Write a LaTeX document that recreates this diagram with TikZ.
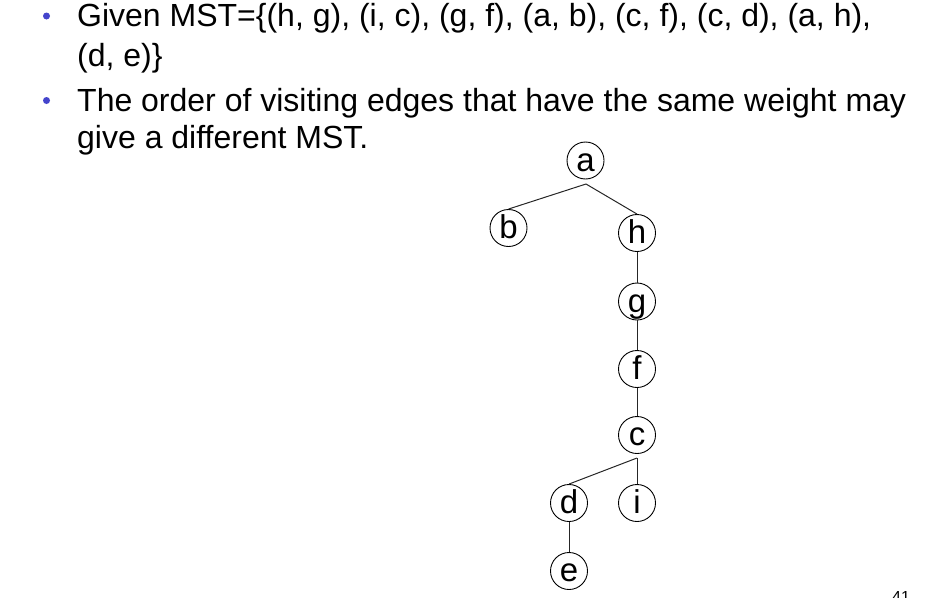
\documentclass[tikz,border=0pt]{standalone}
\usepackage{fontspec}
\setmainfont{Liberation Sans}
\definecolor{bulletblue}{RGB}{68,68,204}
\tikzset{
  vert/.style={circle,draw=black,line width=0.9pt,minimum size=37pt,inner sep=0pt,text height=24pt,text depth=3pt,font=\fontsize{33}{33}\selectfont},
  edge/.style={draw=black!85,line width=1pt},
  txt/.style={anchor=base west,inner sep=0pt,font=\fontsize{32}{38}\selectfont},
  dot/.style={circle,fill=bulletblue,minimum size=7pt,inner sep=0pt}
}
\begin{document}
\begin{tikzpicture}[x=1pt,y=-1pt]
\useasboundingbox (0,0) rectangle (952,597);
\clip (0,0) rectangle (952,597);
% bullets and text
\node[dot] (b1) at (46.5,16) {};
\node[dot] (b2) at (46.5,100.5) {};
\node[txt] (l1) at (77,27) {Given MST=\{(h, g), (i, c), (g, f), (a, b), (c, f), (c, d), (a, h),};
\node[txt] (l2) at (77,66) {(d, e)\}};
\node[txt] (l3) at (77,111) {The order of visiting edges that have the same weight may};
\node[txt] (l4) at (77,148) {give a different MST.};
% tree
\node[vert] (a) at (585.5,160.5) {a};
\node[vert] (b) at (508.5,228) {b};
\node[vert] (h) at (637,233) {h};
\node[vert] (g) at (637,301.5) {g};
\node[vert] (f) at (637,369) {f};
\node[vert] (c) at (637,435) {c};
\node[vert] (d) at (569,503) {d};
\node[vert] (i) at (637,503) {i};
\node[vert] (e) at (569,571) {e};
\coordinate (aj) at (586,184);
\coordinate (cj) at (637,458);
\draw[edge] (aj) -- (b.north);
\draw[edge] (aj) -- (h.north);
\draw[edge] (h) -- (g);
\draw[edge] (g) -- (f);
\draw[edge] (f) -- (c);
\draw[edge] (cj) -- (d.north);
\draw[edge] (cj) -- (i.north);
\draw[edge] (d) -- (e);
% page number (cut off at the page edge, as in the reference)
\node[anchor=north,inner sep=0pt,font=\fontsize{16}{16}\selectfont] (pg) at (901,591) {41};
\end{tikzpicture}
\end{document}
